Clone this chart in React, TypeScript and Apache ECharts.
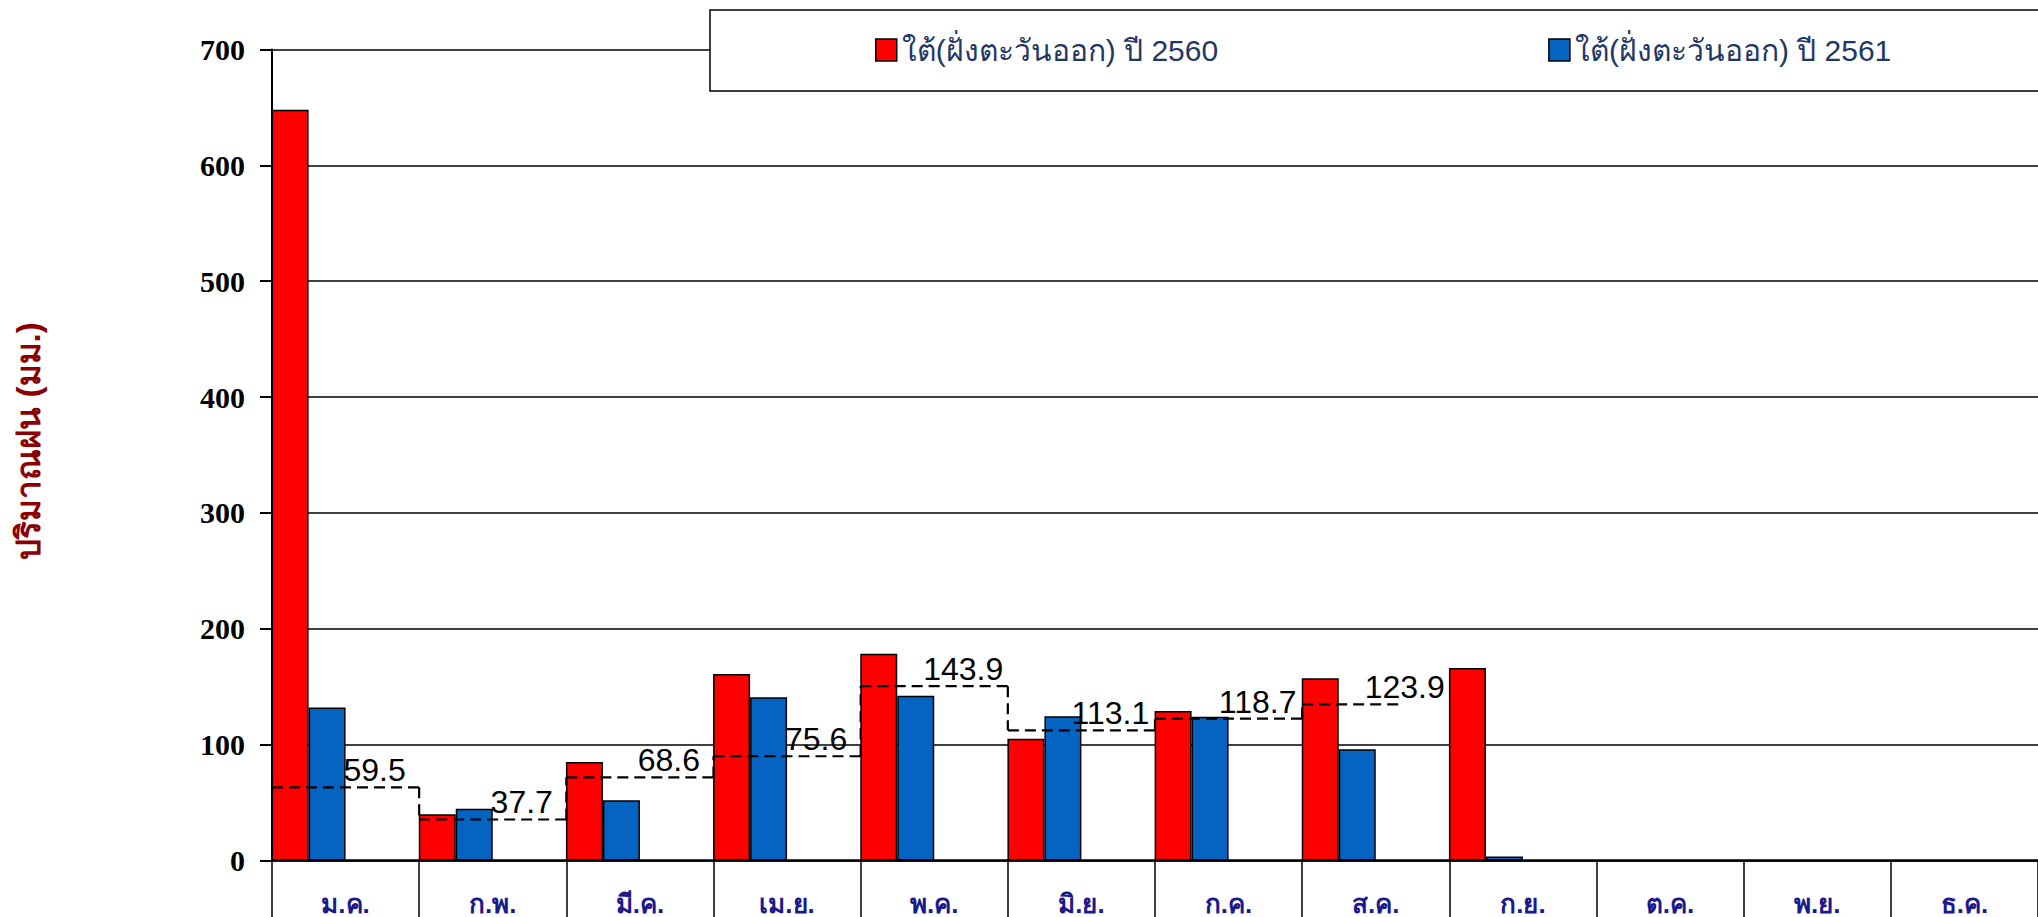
import React, { useEffect, useRef } from "react";
import * as echarts from "echarts";

const months = ["ม.ค.", "ก.พ.", "มี.ค.", "เม.ย.", "พ.ค.", "มิ.ย.", "ก.ค.", "ส.ค.", "ก.ย.", "ต.ค.", "พ.ย.", "ธ.ค."];
const seriesNames = ["ใต้(ฝั่งตะวันออก) ปี 2560", "ใต้(ฝั่งตะวันออก) ปี 2561"];
const rain2560 = [648, 40, 85, 161, 178.5, 105, 129, 157.3, 166.2, null, null, null];
const rain2561 = [132, 44.7, 52, 141, 142.3, 124.4, 124.1, 96, 3.5, null, null, null];
const normalLevels = [63.2, 35.4, 71.8, 90, 150.5, 112.4, 122.5, 134.8];
const normalLabels = ["59.5", "37.7", "68.6", "75.6", "143.9", "113.1", "118.7", "123.9"];
const yTicks = { min: 0, max: 700, interval: 100 };
const yTitle = "ปริมาณฝน (มม.)";

const thaiSans = "'Liberation Sans', 'Noto Sans', Arial, sans-serif";
const serif = "'Liberation Serif', 'Times New Roman', serif";

export default function App() {
  const ref = useRef<HTMLDivElement>(null);
  useEffect(() => {
    if (!ref.current) return;
    const chart = echarts.init(ref.current, undefined, { renderer: "svg" });
    const dash = { stroke: "#000", lineWidth: 2.2, lineDash: [11, 6] };
    const option: any = {
      animation: false,
      backgroundColor: "#fff",
      grid: { left: 272, top: 49.5, width: 1776, bottom: 56.5, containLabel: false },
      legend: {
        data: seriesNames,
        orient: "horizontal",
        left: 710,
        top: 10,
        width: 1500,
        padding: [25, 200, 26, 165],
        itemGap: 330,
        itemWidth: 21,
        itemHeight: 22,
        icon: "rect",
        backgroundColor: "#fff",
        borderColor: "#000",
        borderWidth: 1.5,
        textStyle: { color: "#1F3864", fontSize: 30, fontFamily: thaiSans },
        itemStyle: { borderColor: "#000", borderWidth: 1.5 },
      },
      xAxis: {
        type: "category",
        data: months,
        boundaryGap: true,
        axisLine: { lineStyle: { color: "#000", width: 2.5 } },
        axisTick: { show: true, length: 70, lineStyle: { color: "#000", width: 1.5 } },
        axisLabel: { color: "#1A1A8C", fontSize: 26, fontWeight: "bold", fontFamily: thaiSans, margin: 30, interval: 0 },
      },
      yAxis: {
        type: "value",
        min: yTicks.min,
        max: yTicks.max,
        interval: yTicks.interval,
        axisLine: { show: true, lineStyle: { color: "#000", width: 2 } },
        axisTick: { show: true, length: 12, lineStyle: { color: "#000", width: 2 } },
        axisLabel: { color: "#000", fontSize: 30, fontWeight: "bold", fontFamily: serif, margin: 27 },
        splitLine: { show: true, lineStyle: { color: "#000", width: 1.5 } },
      },
      graphic: [
        {
          type: "text",
          x: 28,
          y: 441,
          rotation: Math.PI / 2,
          style: {
            text: yTitle,
            fill: "#8B0000",
            font: "bold 33px " + thaiSans,
            align: "center",
            verticalAlign: "middle",
          },
        },
      ],
      series: [
        {
          name: seriesNames[0],
          type: "bar",
          data: rain2560,
          barWidth: 37,
          barGap: "0%",
          itemStyle: { color: "#FF0000", borderColor: "#000", borderWidth: 1.5 },
        },
        {
          name: seriesNames[1],
          type: "bar",
          data: rain2561,
          barWidth: 37,
          barGap: "0%",
          itemStyle: { color: "#0563C1", borderColor: "#000", borderWidth: 1.5 },
        },
        { name: "slot3", type: "bar", data: [], barWidth: 37, barGap: "0%", silent: true },
        { name: "slot4", type: "bar", data: [], barWidth: 37, barGap: "0%", silent: true },
        {
          name: "normal",
          type: "custom",
          z: 5,
          clip: false,
          silent: true,
          encode: { x: 0, y: 1 },
          data: normalLevels.map((v, i) => [i, v, i > 0 ? normalLevels[i - 1] : v]),
          renderItem: (params: any, api: any) => {
            const idx = params.dataIndex;
            const c = api.coord([api.value(0), api.value(1)]);
            const w = api.size([1, 0])[0];
            const left = c[0] - w / 2;
            const isLast = idx === normalLevels.length - 1;
            const right = isLast ? c[0] + w * 0.155 : c[0] + w / 2;
            const children: any[] = [
              { type: "line", shape: { x1: left, y1: c[1], x2: right, y2: c[1] }, style: dash },
            ];
            if (idx > 0) {
              const p = api.coord([api.value(0), api.value(2)]);
              children.push({ type: "line", shape: { x1: left, y1: p[1], x2: left, y2: c[1] }, style: dash });
            }
            children.push({
              type: "text",
              x: c[0] + 29,
              y: c[1] - 1,
              style: {
                text: normalLabels[idx],
                fill: "#000",
                font: "32px " + thaiSans,
                align: "center",
                verticalAlign: "bottom",
              },
            });
            return { type: "group", children };
          },
        },
      ],
    };
    chart.setOption(option);
    return () => chart.dispose();
  }, []);
  return <div ref={ref} style={{ position: "absolute", left: 0, top: 0, width: 2038, height: 917 }} />;
}
